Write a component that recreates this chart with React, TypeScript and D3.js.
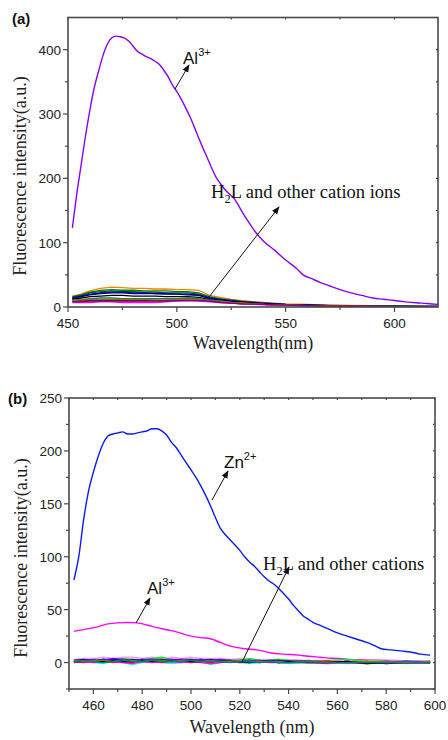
import * as d3 from 'd3';

// ---- panel (a) data ----
const alAWave = [452, 454, 456, 458, 460, 462, 464, 466, 468, 470, 472, 474, 476, 478, 480, 482, 484, 486, 488, 490, 492, 494, 496, 498, 500, 502, 504, 506, 508, 510, 512, 514, 516, 518, 520, 522, 524, 526, 528, 530, 533, 536, 540, 545, 550, 555, 558, 562, 566, 570, 575, 580, 585, 590, 595, 600, 605, 610, 615, 620];
const alAVals = [123, 175, 220, 265, 305, 340, 366, 390, 408, 418, 421, 420, 418, 413, 405, 397, 393, 389, 386, 382, 377, 368, 358, 345, 335, 323, 310, 296, 280, 263, 247, 232, 216, 202, 192, 183, 176, 170, 160, 148, 132, 117, 102, 88, 73, 60, 50, 44, 38, 33, 27, 22, 18, 14, 12, 10, 8, 6.5, 5.5, 4];

const otherAWave = [452, 456, 460, 465, 470, 475, 480, 485, 490, 495, 500, 505, 510, 515, 520, 525, 530, 540, 550, 560, 570, 580, 590, 600, 610, 620];
const otherAColors = ['#ff8000', '#008000', '#006400', '#0000ff', '#000080', '#000000', '#008080', '#ff0000', '#800000', '#ff00ff', '#808000', '#800080'];
const otherAVals = [
  [17, 20, 25, 29, 31, 30, 29, 29, 28, 28, 27, 27, 26, 18, 15, 12, 10, 7, 5, 4, 3, 2.5, 2, 2, 1.5, 1.5],
  [16, 19, 23, 26, 27, 26, 26, 25, 25, 25, 24, 24, 22, 16, 13, 11, 9, 6, 4, 3, 2.5, 2, 1.5, 1.5, 1, 1],
  [15, 18, 22, 24, 25, 24, 24, 23, 23, 22, 22, 22, 20, 15, 12, 10, 8, 6, 4, 3, 2, 2, 1.5, 1, 1, 1],
  [14, 17, 20, 22, 23, 23, 22, 22, 21, 21, 20, 20, 19, 14, 12, 10, 8, 6, 4, 3, 2, 2, 1.5, 1, 1, 1],
  [13, 16, 19, 21, 22, 22, 21, 21, 21, 20, 20, 19, 18, 13, 11, 9, 8, 5, 3.5, 3, 2, 1.5, 1, 1, 1, 0.5],
  [12, 14, 16, 17, 18, 18, 17, 17, 17, 16, 16, 16, 15, 12, 10, 8, 7, 5, 3, 2.5, 2, 1.5, 1, 1, 0.5, 0.5],
  [11, 12, 13, 14, 14, 13, 13, 13, 13, 13, 13, 14, 13, 11, 9, 7, 6, 4, 3, 2, 1.5, 1, 1, 1, 0.5, 0.5],
  [9, 10, 10, 11, 11, 10, 10, 11, 10, 10, 11, 12, 12, 10, 8, 7, 6, 4, 3, 2, 1.5, 1, 1, 0.5, 0.5, 0.5],
  [9, 9, 10, 10, 10, 10, 10, 10, 10, 10, 11, 12, 11, 9, 8, 6, 5, 4, 2.5, 2, 1.5, 1, 1, 0.5, 0.5, 0.5],
  [7, 7, 7, 8, 8, 7, 7, 7, 7, 8, 9, 10, 9, 8, 7, 6, 5, 3.5, 2.5, 2, 1.5, 1, 0.5, 0.5, 0.5, 0.5],
  [10, 11, 12, 12, 12, 12, 12, 12, 11, 11, 12, 12, 12, 10, 9, 7, 6, 4, 3, 2, 1.5, 1, 1, 0.5, 0.5, 0.5],
  [8, 8, 9, 9, 9, 9, 9, 9, 9, 9, 10, 10, 10, 9, 7, 6, 5, 4, 3, 2, 1.5, 1, 1, 0.5, 0.5, 0.5],
];

// ---- panel (b) data ----
const znWave = [452, 454, 456, 458, 460, 462, 464, 466, 468, 470, 472, 474, 476, 478, 480, 482, 484, 486, 488, 490, 492, 494, 496, 498, 500, 502, 504, 506, 508, 510, 512, 514, 516, 518, 520, 522, 524, 526, 528, 530, 532, 534, 536, 538, 540, 542, 544, 546, 548, 550, 552, 554, 556, 558, 560, 564, 568, 572, 576, 578, 582, 586, 590, 594, 598];
const znVals = [78, 100, 135, 162, 180, 195, 207, 214, 216, 217, 218, 216, 216, 217, 218, 219, 221, 221, 219, 215, 208, 203, 196, 189, 182, 175, 167, 158, 148, 137, 127, 121, 116, 111, 106, 100, 95, 91, 86, 81, 77, 74, 70, 65, 60, 54, 49, 44, 41, 38, 36, 34, 32, 30, 28, 25, 22, 19, 15, 13, 12, 11, 10, 8, 7];

const alBWave = [452, 458, 462, 466, 470, 474, 478, 482, 486, 490, 494, 500, 504, 508, 512, 517, 522, 527, 533, 538, 544, 548, 553, 558, 565, 572, 580, 586, 592, 598];
const alBVals = [29.5, 32, 34, 36.5, 37.5, 37.8, 37.5, 35.5, 33, 31, 29, 25, 23.5, 22.5, 19, 15, 13, 12, 9, 8, 7, 6, 5, 4, 3, 2.5, 2, 1.8, 1.5, 1];

const otherBWave = [452, 456, 460, 464, 468, 472, 476, 480, 484, 488, 492, 496, 500, 504, 508, 512, 516, 520, 524, 528, 532, 536, 540, 548, 556, 564, 572, 580, 588, 598];
const otherBColors = ['#ff99ff', '#00ff00', '#00ffff', '#ff8000', '#000080', '#0000ff', '#8000ff', '#ff0000', '#ff00ff', '#000000', '#808000', '#008080'];
const otherBVals = [
  [3, 4, 4, 5, 4, 5, 5, 4, 5, 4, 5, 4, 5, 4, 4, 4, 3, 4, 3, 3, 3, 3, 3, 2, 2, 2, 2, 2, 1, 1],
  [2, 2, 3, 3, 2, 4, 3, 3, 4, 5, 3, 2, 3, 3, 2, 3, 2, 2, 4, 2, 2, 3, 2, 1, 2, 3, 1, 2, 0, 1],
  [0, 1, 0, -1, 1, 0, -2, 0, 1, 0, -1, 0, 0, 1, -2, 0, 1, 0, -1, 0, 1, 0, -1, 0, 0, -1, 0, 0, -1, 0],
  [1, 2, 1, 2, 3, 1, 2, 3, 1, 2, 2, 1, 3, 2, 1, 2, 1, 2, 1, 2, 1, 0, 1, 2, 1, 0, 1, -1, 1, 0],
  [2, 3, 2, 3, 3, 2, 3, 2, 3, 3, 2, 3, 3, 2, 3, 2, 2, 2, 2, 1, 2, 2, 1, 1, 1, 0, 1, -1, 0, 0],
  [1, 2, 2, 3, 2, 3, 1, 3, 2, 2, 3, 2, 2, 3, 2, 1, 2, 1, 2, 1, 1, 2, 1, 1, 0, 1, 0, 0, 1, 0],
  [2, 2, 3, 2, 4, 3, 2, 3, 3, 2, 3, 3, 2, 3, 2, 3, 2, 1, 2, 2, 1, 1, 1, 1, 0, 1, 0, 1, 0, 0],
  [1, 0, 1, 1, 0, 1, 0, 1, 1, 0, 1, 1, 0, 1, 0, 1, 1, 0, 1, 0, 1, 0, 0, 0, 1, 0, -1, 0, 0, 1],
  [0, 1, 0, 1, 1, 0, -1, 1, 0, 1, 1, 0, 1, 0, -1, 0, 1, 1, 0, 1, 0, 0, 1, 0, -1, 0, 0, 1, 0, 0],
  [1, 1, 2, 1, 2, 1, 1, 2, 1, 2, 1, 2, 1, 1, 2, 1, 1, 1, 0, 1, 1, 0, 1, 0, 0, 1, -1, 0, 0, 0],
  [2, 1, 2, 2, 1, 2, 2, 1, 2, 2, 1, 2, 2, 1, 2, 1, 1, 2, 1, 1, 1, 1, 0, 1, 0, 0, 1, 0, 0, 1],
  [1, 2, 1, 0, 1, 2, 1, 1, 2, 1, 1, 1, 2, 1, 1, 1, 0, 1, 1, 0, 1, 0, 0, 1, 0, 0, 0, 0, 1, 0],
];

// ticks
const aXMajor = [450, 500, 550, 600];
const aXMinor = [475, 525, 575];
const aYMajor = [0, 100, 200, 300, 400];
const aYMinor = [50, 150, 250, 350];
const bXMajor = [460, 480, 500, 520, 540, 560, 580, 600];
const bXMinor = [450, 470, 490, 510, 530, 550, 570, 590];
const bYMajor = [0, 50, 100, 150, 200, 250];
const bYMinor = [-25, 25, 75, 125, 175, 225];

const AXIS = '#4a4a4a';
const SANS = 'Arial, "Liberation Sans", Helvetica, sans-serif';
const SERIF = '"Times New Roman", "Liberation Serif", serif';

type Series = { wave: number[]; vals: number[]; color: string; smooth?: boolean };

interface PanelProps {
  left: number; top: number; right: number; bottom: number;
  xDomain: [number, number]; yDomain: [number, number];
  xMajor: number[]; xMinor: number[]; yMajor: number[]; yMinor: number[];
  series: Series[];
  tag: string; xLabel: string; xLabelY: number; yLabelMid: number;
  children: (x: d3.ScaleLinear<number, number>, y: d3.ScaleLinear<number, number>) => any;
}

function Panel({ left, top, right, bottom, xDomain, yDomain, xMajor, xMinor, yMajor, yMinor, series, tag, xLabel, xLabelY, yLabelMid, children }: PanelProps) {
  const x = d3.scaleLinear().domain(xDomain).range([left, right]);
  const y = d3.scaleLinear().domain(yDomain).range([bottom, top]);
  const clipId = `clip-${tag.replace(/\W/g, '')}`;
  return (
    <g>
      <defs>
        <clipPath id={clipId}>
          <rect x={left} y={top} width={right - left} height={bottom - top} />
        </clipPath>
      </defs>
      <g clipPath={`url(#${clipId})`}>
        {series.map((s, i) => {
          const line = d3.line<number>()
            .x((_, k) => x(s.wave[k]))
            .y((d) => y(d))
            .curve(s.smooth ? d3.curveMonotoneX : d3.curveLinear);
          return <path key={i} d={line(s.vals) ?? ''} fill="none" stroke={s.color} strokeWidth={s.smooth ? 1.4 : 1.3} />;
        })}
      </g>
      {/* frame */}
      <rect x={left} y={top} width={right - left} height={bottom - top} fill="none" stroke={AXIS} strokeWidth={1.6} />
      {/* x ticks */}
      {xMajor.map((t) => (
        <g key={`xm${t}`}>
          <line x1={x(t)} x2={x(t)} y1={bottom} y2={bottom + 5} stroke={AXIS} strokeWidth={1.2} />
          <line x1={x(t)} x2={x(t)} y1={top} y2={top + 2} stroke={AXIS} strokeWidth={1.2} />
          <text x={x(t)} y={bottom + 21} fontSize={13.5} fontFamily={SANS} textAnchor="middle" fill="#222">{t}</text>
        </g>
      ))}
      {xMinor.map((t) => (
        <g key={`xn${t}`}>
          <line x1={x(t)} x2={x(t)} y1={bottom} y2={bottom + 3} stroke={AXIS} strokeWidth={1.2} />
          <line x1={x(t)} x2={x(t)} y1={top} y2={top + 2} stroke={AXIS} strokeWidth={1.2} />
        </g>
      ))}
      {/* y ticks */}
      {yMajor.map((t) => (
        <g key={`ym${t}`}>
          <line x1={left - 5} x2={left} y1={y(t)} y2={y(t)} stroke={AXIS} strokeWidth={1.2} />
          <line x1={right - 2} x2={right} y1={y(t)} y2={y(t)} stroke={AXIS} strokeWidth={1.2} />
          <text x={left - 7} y={y(t) + 5} fontSize={13.5} fontFamily={SANS} textAnchor="end" fill="#222">{t}</text>
        </g>
      ))}
      {yMinor.map((t) => (
        <g key={`yn${t}`}>
          <line x1={left - 3} x2={left} y1={y(t)} y2={y(t)} stroke={AXIS} strokeWidth={1.2} />
          <line x1={right - 2} x2={right} y1={y(t)} y2={y(t)} stroke={AXIS} strokeWidth={1.2} />
        </g>
      ))}
      {/* axis titles */}
      <text
        transform={`translate(${left - 42},${yLabelMid}) rotate(-90)`}
        fontSize={18} fontFamily={SERIF} textAnchor="middle" fill="#222"
      >
        Fluorescence intensity(a.u.)
      </text>
      <text x={(left + right) / 2} y={xLabelY} fontSize={18} fontFamily={SERIF} textAnchor="middle" fill="#222">
        {xLabel}
      </text>
      {children(x, y)}
    </g>
  );
}

function Arrow({ x1, y1, x2, y2 }: { x1: number; y1: number; x2: number; y2: number }) {
  return <line x1={x1} y1={y1} x2={x2} y2={y2} stroke="#111" strokeWidth={1} markerEnd="url(#arrowHead)" />;
}

function Ion({ x, y, base, sup }: { x: number; y: number; base: string; sup: string }) {
  return (
    <text x={x} y={y} fontSize={17} fontFamily={SANS} fill="#111">
      {base}
      <tspan fontSize={11} dy={-8}>{sup}</tspan>
    </text>
  );
}

function H2L({ x, y, rest }: { x: number; y: number; rest: string }) {
  return (
    <text x={x} y={y} fontSize={18.5} fontFamily={SERIF} fill="#111">
      H<tspan fontSize={12.5} dy={5}>2</tspan><tspan dy={-5}>{rest}</tspan>
    </text>
  );
}

export default function App() {
  const seriesA: Series[] = [
    ...otherAVals.map((vals, i) => ({ wave: otherAWave, vals, color: otherAColors[i] })),
    { wave: alAWave, vals: alAVals, color: '#8a00ff', smooth: true },
  ];
  const seriesB: Series[] = [
    { wave: znWave, vals: znVals, color: '#0a1aff', smooth: true },
    { wave: alBWave, vals: alBVals, color: '#ff00ff', smooth: true },
    ...otherBVals.map((vals, i) => ({ wave: otherBWave, vals, color: otherBColors[i] })),
  ];

  return (
    <svg width={448} height={740} style={{ position: 'absolute', left: 0, top: 0, background: '#fff' }}>
      <defs>
        <marker id="arrowHead" viewBox="0 0 10 10" refX={9} refY={5} markerWidth={8} markerHeight={8} orient="auto-start-reverse" markerUnits="userSpaceOnUse">
          <path d="M0,1 L10,5 L0,9 Z" fill="#111" />
        </marker>
      </defs>

      <text x={12} y={24} fontSize={15} fontWeight="bold" fontFamily={SANS} fill="#111">(a)</text>
      <Panel
        left={68} top={17.5} right={438} bottom={307}
        xDomain={[450, 620]} yDomain={[0, 450]}
        xMajor={aXMajor} xMinor={aXMinor} yMajor={aYMajor} yMinor={aYMinor}
        series={seriesA} tag="a" xLabel="Wavelength(nm)" xLabelY={349} yLabelMid={176}
      >
        {() => (
          <g>
            <Ion x={183} y={64} base="Al" sup="3+" />
            <Arrow x1={175} y1={89} x2={189} y2={65} />
            <H2L x={211} y={198} rest="L and other cation ions" />
            <Arrow x1={209} y1={297} x2={279} y2={207} />
          </g>
        )}
      </Panel>

      <text x={8} y={404} fontSize={15} fontWeight="bold" fontFamily={SANS} fill="#111">(b)</text>
      <Panel
        left={69} top={398} right={435} bottom={689}
        xDomain={[450, 600]} yDomain={[-25, 250]}
        xMajor={bXMajor} xMinor={bXMinor} yMajor={bYMajor} yMinor={bYMinor}
        series={seriesB} tag="b" xLabel="Wavelength (nm)" xLabelY={733} yLabelMid={558}
      >
        {() => (
          <g>
            <Ion x={224} y={468} base="Zn" sup="2+" />
            <Arrow x1={212} y1={500} x2={228} y2={471} />
            <Ion x={147} y={594} base="Al" sup="3+" />
            <Arrow x1={136} y1={623} x2={150} y2={598} />
            <H2L x={263} y={570} rest="L and other cations" />
            <Arrow x1={242} y1={662} x2={289} y2={567} />
          </g>
        )}
      </Panel>
    </svg>
  );
}
